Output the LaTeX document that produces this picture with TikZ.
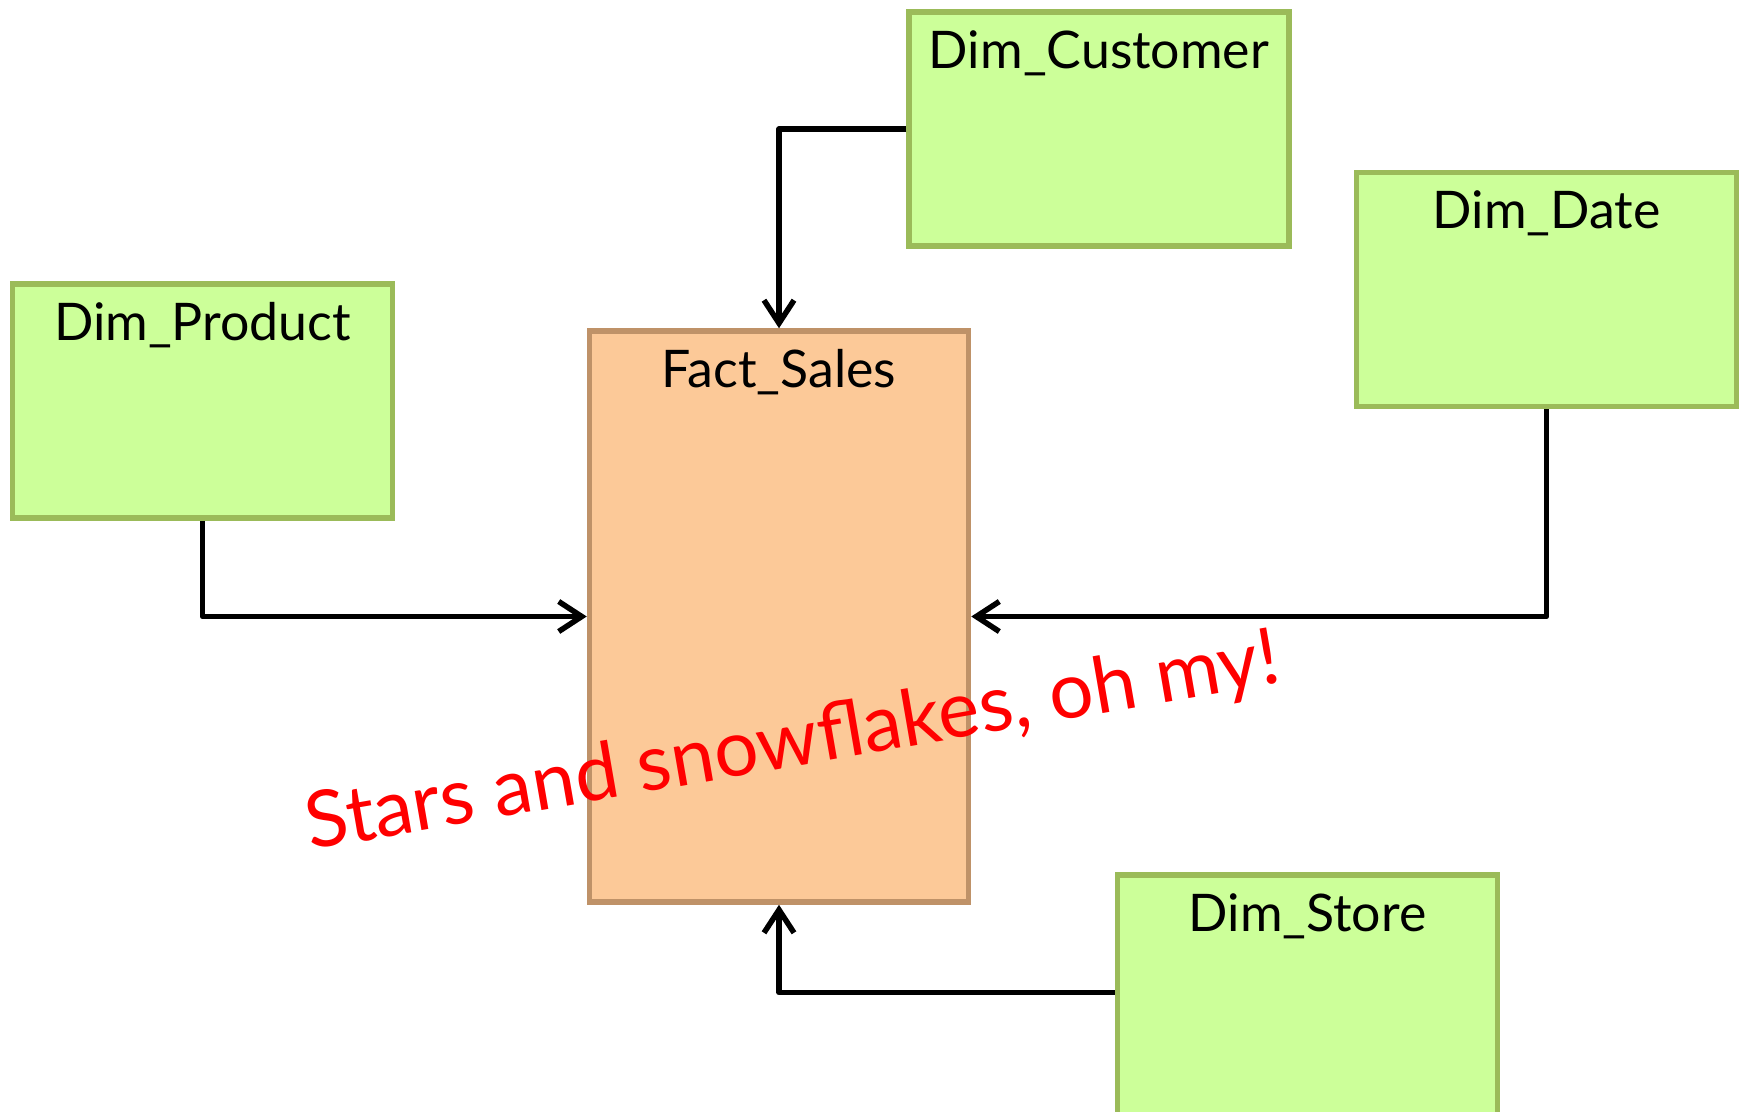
\documentclass[tikz,border=0pt]{standalone}
\usepackage{fontspec}
\setmainfont{Lato}
\usetikzlibrary{calc,arrows.meta,positioning}
\definecolor{dimfill}{HTML}{CCFF99}
\definecolor{dimline}{HTML}{9BBB59}
\definecolor{factfill}{HTML}{FCC998}
\definecolor{factline}{HTML}{BF9268}
\definecolor{mottored}{HTML}{FF0000}
\tikzset{
  dimbox/.style={draw=dimline,line width=1.1mm,fill=dimfill,minimum width=76mm,minimum height=46.8mm,inner sep=0pt},
  factbox/.style={draw=factline,line width=1.1mm,fill=factfill,minimum width=75.8mm,minimum height=114.2mm,inner sep=0pt},
  ttl/.style={anchor=base,inner sep=0pt,font=\fontsize{29.5}{34}\selectfont},
  ar/.style={-{Straight Barb[length=4.6mm,width=6mm]},line width=1.1mm,line join=round}
}
\begin{document}
\begin{tikzpicture}[x=0.2mm,y=-0.2mm]
\useasboundingbox (0,0) rectangle (1746,1111);
% tables
\node[factbox] (fact) at (779,616.5) {};
\node[dimbox] (customer) at (1099,129) {};
\node[dimbox] (date) at (1546.5,289.5) {};
\node[dimbox] (product) at (202.5,401) {};
\node[dimbox,minimum height=49mm] (store) at (1307.5,997.5) {};
% titles
\node[ttl] (factT) at ($(fact.north)+(0,59)$) {Fact\_Sales};
\node[ttl] (customerT) at ($(customer.north)+(0,59)$) {Dim\_Customer};
\node[ttl] (dateT) at ($(date.north)+(0,59)$) {Dim\_Date};
\node[ttl] (productT) at ($(product.north)+(0,59)$) {Dim\_Product};
\node[ttl] (storeT) at ($(store.north)+(0,59)$) {Dim\_Store};
% links
\draw[ar] (customer.west) -| (fact.north);
\draw[ar] (product.south) |- (fact.west);
\draw[ar] (date.south) |- (fact.east);
\draw[ar] ($(store.west)+(0,-5)$) -| (fact.south);
\node[anchor=base,rotate=9.8,inner sep=0pt,text=mottored,font=\fontsize{44.5}{50}\selectfont] (motto) at (797,766) {Stars and snowflakes, oh my!};
\end{tikzpicture}
\end{document}
